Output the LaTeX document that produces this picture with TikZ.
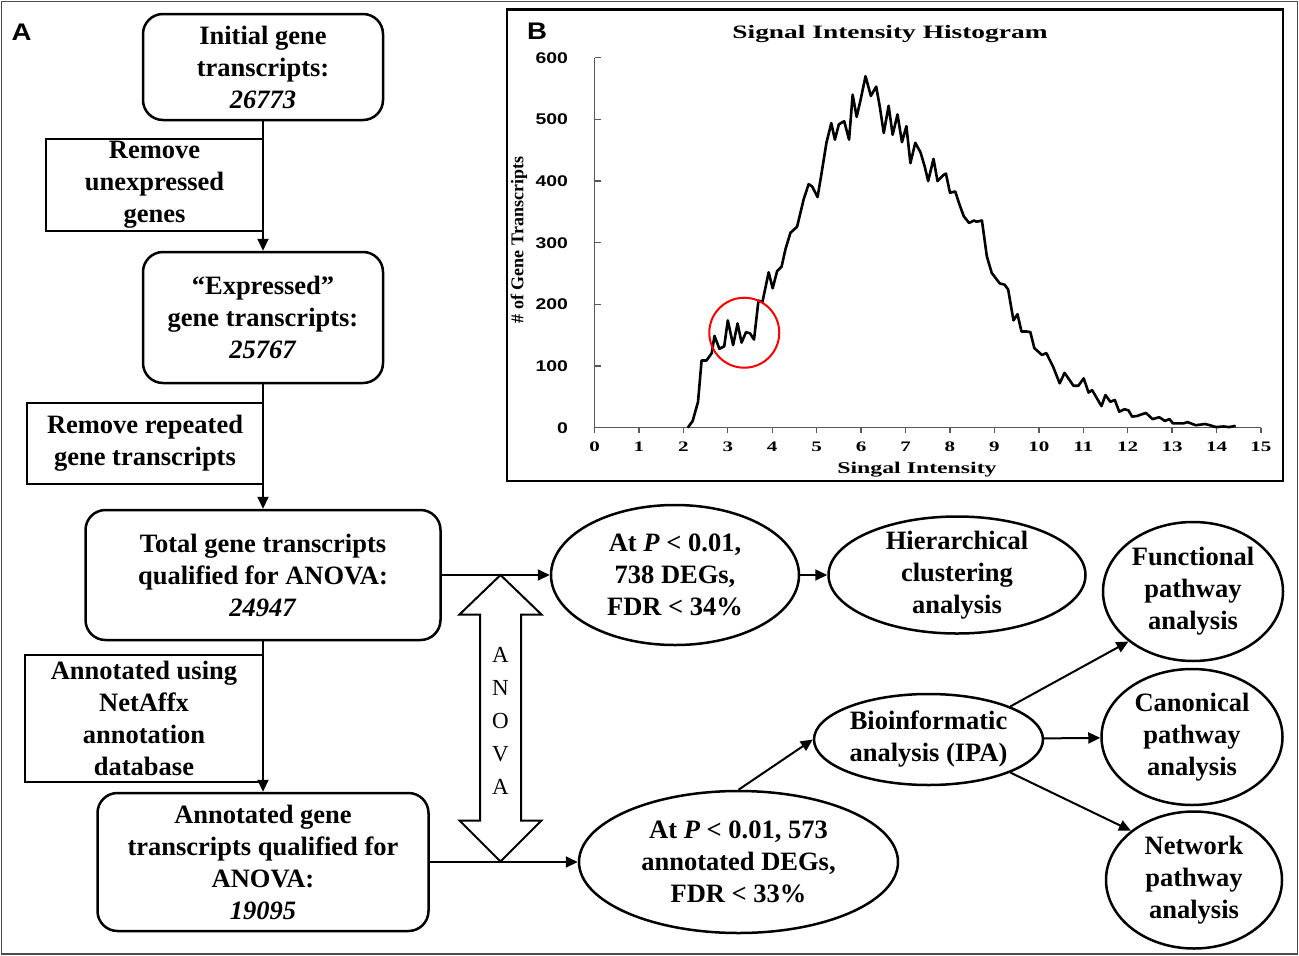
\documentclass[tikz,border=0pt]{standalone}
\usepackage{fontspec}
\setmainfont{Liberation Serif}
\newfontfamily\panelfont[FakeStretch=1.15]{Liberation Sans}
\newfontfamily\chartfont[FakeStretch=1.45]{Liberation Serif}
\newfontfamily\ticksans[FakeStretch=1.25]{Liberation Sans}
\usepackage{tikz}
\usetikzlibrary{positioning}
\usetikzlibrary{shapes.geometric}
\usetikzlibrary{arrows.meta}
\newcommand{\boxfont}{\fontsize{26.5}{32}\selectfont\bfseries}
\newcommand{\panelsize}{\panelfont\fontsize{24}{24}\selectfont\bfseries}

\begin{document}
\begin{tikzpicture}
[x=1pt,y=-1pt,
 stage/.style={shape=rectangle,draw,line width=2.5pt,rounded corners=20pt,align=center,inner sep=0pt,font=\boxfont},
 filter/.style={shape=rectangle,draw,line width=2.5pt,align=center,inner sep=0pt,outer sep=0pt,anchor=east,font=\boxfont},
 result/.style={shape=ellipse,draw,line width=2.5pt,align=center,inner sep=0pt,font=\boxfont},
 flow/.style={line width=2pt,-{Triangle[length=12pt,width=11pt]}},
 axisline/.style={draw=black!65,line width=1.4pt}]

\useasboundingbox (0,0) rectangle (1299,956);
\draw [black!70,line width=1.5pt] (1.5,1.5) rectangle (1297.5,954);

% panel A
\node (labA) at (21.7,32.5) [font=\panelsize] {A};

\draw (263,67) node (init) [stage,minimum width=240pt,minimum height=106pt]
	{Initial gene\\transcripts:\\\textit{26773}};
\draw (263,317.5) node (expr) [stage,minimum width=240pt,minimum height=131pt]
	{“Expressed”\\gene transcripts:\\\textit{25767}};
\draw (263,575) node (total) [stage,minimum width=355pt,minimum height=130pt]
	{Total gene transcripts\\qualified for ANOVA:\\\textit{24947}};
\draw (263,862) node (annot) [stage,minimum width=331pt,minimum height=138pt]
	{Annotated gene\\transcripts qualified for\\ANOVA:\\\textit{19095}};

\draw (263,185) node (rmun) [filter,minimum width=217pt,minimum height=92pt]
	{Remove\\unexpressed\\genes};
\draw (263,443.5) node (rmrep) [filter,minimum width=236pt,minimum height=81pt]
	{Remove repeated\\gene transcripts};
\draw (263,718.5) node (netaffx) [filter,minimum width=238pt,minimum height=127pt]
	{Annotated using\\NetAffx\\annotation\\database};

\draw (675,575) node (sig1) [result,minimum width=248pt,minimum height=140pt]
	{At \textit{P} < 0.01,\\738 DEGs,\\FDR < 34\%};
\draw (957,575) node (hier) [result,minimum width=257pt,minimum height=117pt,inner ysep=-4pt]
	{Hierarchical\\clustering\\analysis};
\draw (738.5,862) node (sig2) [result,minimum width=319pt,minimum height=142pt]
	{At \textit{P} < 0.01, 573\\annotated DEGs,\\FDR < 33\%};
\draw (928.5,739.5) node (ipa) [result,minimum width=229pt,minimum height=91pt]
	{Bioinformatic\\analysis (IPA)};
\draw (1193,591.5) node (func) [result,minimum width=180pt,minimum height=139pt]
	{Functional\\pathway\\analysis};
\draw (1192,737) node (canon) [result,minimum width=181pt,minimum height=136pt]
	{Canonical\\pathway\\analysis};
\draw (1194,880) node (netw) [result,minimum width=176pt,minimum height=137pt]
	{Network\\pathway\\analysis};

\draw [flow] (init) -- (expr);
\draw [flow] (expr) -- (total);
\draw [flow] (total) -- (annot);
\draw [flow] (total) -- (sig1);
\draw [flow] (annot) -- (sig2);
\draw [flow] (sig1) -- (hier);
\draw [flow] (sig2.north) -- (ipa.west);
\draw [flow] (ipa.north east) -- (func.south west);
\draw [flow] (ipa) -- (canon);
\draw [flow] (ipa.south east) -- (netw.north west);

\coordinate (anovatop) at (500.5,575);
\draw [line width=2pt] (anovatop) -- ++(41,39.5) -- ++(-20.5,0) -- ++(0,206)
	-- ++(20.5,0) -- ++(-41,41) -- ++(-41,-41) -- ++(20.5,0) -- ++(0,-206)
	-- ++(-20.5,0) -- cycle;
\node (anova) at (500.5,720.5) [align=center,font=\fontsize{23}{33}\selectfont] {A\\N\\O\\V\\A};

% panel B
\draw [line width=2.2pt] (507,9.5) rectangle (1283,481);
\node (labB) at (537,31) [font=\panelsize] {B};
\node (title) at (890,38.7) [anchor=base,font=\chartfont\bfseries\fontsize{18.9}{20}\selectfont]
	{Signal Intensity Histogram};
\node (xlabel) at (917,473.3) [anchor=base,font=\chartfont\bfseries\fontsize{16.4}{18}\selectfont]
	{Singal Intensity};
\node (ylabel) at (519,240) [rotate=90,font=\bfseries\fontsize{18}{18}\selectfont]
	{\# of Gene Transcripts};

\begin{scope}[shift={(594.5,427.7)},x=44.43pt,y=0.6167pt]
\draw [axisline] (0,600) -- (0,0) -- (15,0);
\foreach \y in {0,100,...,600} {
	\draw [axisline] (0,\y) -- ++(6pt,0);
	\node (ytick\y) [anchor=east,font=\ticksans\bfseries\fontsize{15.5}{15.5}\selectfont]
		at ([xshift=-23pt]0,\y) {\y};
}
\foreach \x in {0,...,15} {
	\draw [axisline] (\x,0) -- ++(0,-5pt);
	\node (xtick\x) [font=\chartfont\bfseries\fontsize{14.5}{14.5}\selectfont]
		at ([yshift=-19.3pt]\x,0) {\x};
}
\draw [line width=2.6pt,line join=round] plot [sharp plot] coordinates {
	(2.10,0) (2.21,11) (2.33,42) (2.41,109) (2.52,109) (2.64,121) (2.70,149)
	(2.81,128) (2.92,132) (3.00,174) (3.12,134) (3.22,169) (3.31,138) (3.41,155)
	(3.50,153) (3.59,143) (3.69,206) (3.78,204) (3.92,252) (4.01,226) (4.11,254)
	(4.21,261) (4.30,290) (4.41,316) (4.56,326) (4.71,371) (4.82,395) (4.90,391)
	(5.02,374) (5.10,408) (5.22,462) (5.33,494) (5.41,467) (5.50,492) (5.62,497)
	(5.73,467) (5.81,540) (5.90,504) (5.99,532) (6.10,570) (6.22,538) (6.34,553)
	(6.42,521) (6.51,478) (6.62,522) (6.71,475) (6.82,508) (6.92,463) (7.02,489)
	(7.11,429) (7.22,462) (7.34,446) (7.43,424) (7.51,400) (7.63,436) (7.72,400)
	(7.86,410) (7.91,412) (8.00,381) (8.12,383) (8.20,365) (8.31,343) (8.43,332)
	(8.54,336) (8.60,334) (8.72,336) (8.83,278) (8.94,251) (9.12,234) (9.23,232)
	(9.31,224) (9.43,174) (9.52,184) (9.61,156) (9.72,156) (9.81,155) (9.90,129)
	(10.07,118) (10.17,121) (10.32,99) (10.47,72) (10.58,89) (10.78,68) (10.89,68)
	(11.01,80) (11.12,57) (11.20,61) (11.41,35) (11.50,53) (11.61,42) (11.71,45)
	(11.81,26) (11.93,30) (12.02,28) (12.10,18) (12.21,19) (12.41,24) (12.56,14)
	(12.71,17) (12.84,11) (12.94,14) (13.02,7) (13.25,7) (13.35,9) (13.53,4)
	(13.74,6) (13.85,4) (13.99,1) (14.16,2) (14.28,1) (14.43,3)};
\draw [red,line width=2pt] (3.371,154) circle [radius=35pt];
\end{scope}
\end{tikzpicture}
\end{document}
